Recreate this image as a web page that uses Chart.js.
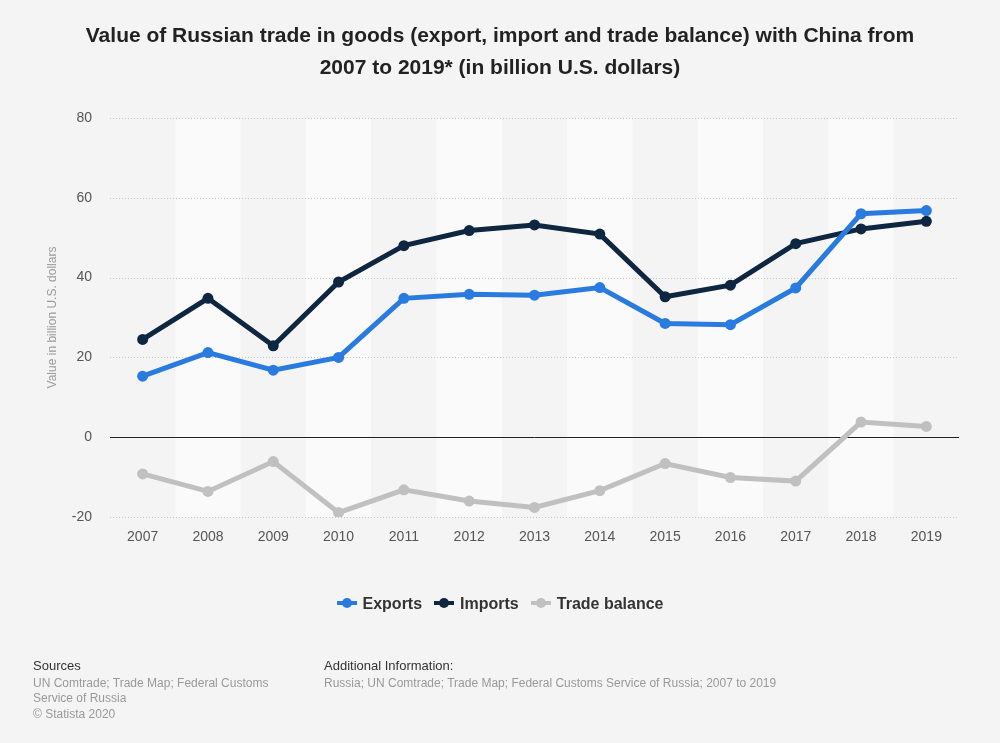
<!DOCTYPE html>
<html>
<head>
<meta charset="utf-8">
<script src="https://cdn.jsdelivr.net/npm/chart.js@4/dist/chart.umd.min.js"></script>
<style>
  html, body { margin: 0; padding: 0; background: #f4f4f4; }
  body { width: 1000px; height: 743px; position: relative; overflow: hidden; font-family: "Liberation Sans", Arial, sans-serif; }
  #chart { position: absolute; left: 0; top: 0; }
  #title { position: absolute; left: 0; top: 19px; width: 1000px; text-align: center; font-weight: bold; font-size: 21px; line-height: 32px; color: #222; }
  #legend { position: absolute; left: 0; top: 595px; width: 1000px; text-align: center; font-size: 16px; font-weight: bold; color: #333; }
  #legend span.item { display: inline-block; margin: 0 6px; }
  #legend i { display: inline-block; position: relative; width: 20px; height: 4px; margin-right: 6px; vertical-align: middle; top: -2px; }
  #legend i:after { content: ""; position: absolute; left: 5px; top: -3px; width: 10px; height: 10px; border-radius: 50%; background: inherit; }
  .foot { position: absolute; top: 658px; font-size: 12px; color: #999; line-height: 15.5px; }
  .foot b { display: block; font-weight: normal; color: #333; font-size: 13px; margin-bottom: 2px; }
</style>
</head>
<body>
<canvas id="chart" width="1000" height="743"></canvas>
<div id="title">Value of Russian trade in goods (export, import and trade balance) with China from<br>2007 to 2019* (in billion U.S. dollars)</div>
<div id="legend"></div>
<div class="foot" style="left:33px;width:260px"><b>Sources</b>UN Comtrade; Trade Map; Federal Customs<br>Service of Russia<br>© Statista 2020</div>
<div class="foot" style="left:324px;width:520px"><b>Additional Information:</b>Russia; UN Comtrade; Trade Map; Federal Customs Service of Russia; 2007 to 2019</div>
<script>
var years = ['2007', '2008', '2009', '2010', '2011', '2012', '2013', '2014', '2015', '2016', '2017', '2018', '2019'];
var exportsData = [15.3, 21.2, 16.8, 20.0, 34.8, 35.8, 35.6, 37.5, 28.5, 28.2, 37.4, 56.0, 56.8];
var importsData = [24.5, 34.8, 22.9, 38.9, 48.0, 51.8, 53.2, 50.9, 35.2, 38.1, 48.5, 52.2, 54.1];
var balanceData = [-9.2, -13.6, -6.1, -18.9, -13.2, -16.0, -17.6, -13.4, -6.6, -10.1, -11.0, 3.8, 2.7];
var seriesNames = ['Exports', 'Imports', 'Trade balance'];
var seriesColors = ['#2a7be0', '#0e2640', '#c0c0c0'];

// lighter stripes behind every other year, dotted grid and a solid zero line
var bandsPlugin = {
    id: 'bands',
    beforeDatasetsDraw: function(chart) {
        var ctx = chart.ctx, x = chart.scales.x, y = chart.scales.y, area = chart.chartArea;
        var step = x.getPixelForValue(1) - x.getPixelForValue(0);
        ctx.save();
        ctx.fillStyle = '#fafafa';
        for (var i = 1; i < years.length; i += 2) {
            var cx = x.getPixelForValue(i);
            ctx.fillRect(cx - step / 2, area.top, step, area.bottom - area.top);
        }
        ctx.strokeStyle = '#c8c8c8';
        ctx.lineWidth = 1;
        ctx.setLineDash([1, 2]);
        y.ticks.forEach(function(t) {
            if (t.value === 0) return;
            var py = Math.round(y.getPixelForValue(t.value)) + 0.5;
            ctx.beginPath();
            ctx.moveTo(area.left, py);
            ctx.lineTo(area.right, py);
            ctx.stroke();
        });
        ctx.setLineDash([]);
        ctx.strokeStyle = '#222';
        var zy = Math.round(y.getPixelForValue(0)) + 0.5;
        ctx.beginPath();
        ctx.moveTo(area.left, zy);
        ctx.lineTo(area.right, zy);
        ctx.stroke();
        ctx.restore();
    }
};

var allData = [exportsData, importsData, balanceData];
var datasets = [];
for (let i = 0; i < allData.length; i++) {
    datasets.push({
        label: seriesNames[i],
        data: allData[i],
        borderColor: seriesColors[i],
        backgroundColor: seriesColors[i],
        borderWidth: 5,
        pointRadius: 5.5,
        pointBorderWidth: 0,
        pointHoverRadius: 5.5,
        tension: 0,
        order: i + 1
    });
}

let lineChart = new Chart(document.getElementById('chart'), {
    type: 'line',
    data: { labels: years, datasets: datasets },
    options: {
        responsive: false,
        animation: false,
        layout: { padding: { left: 0, right: 41, top: 118, bottom: 186 } },
        plugins: { legend: { display: false }, tooltip: { enabled: false } },
        scales: {
            x: {
                offset: true,
                grid: { display: false, drawTicks: false },
                border: { display: false },
                ticks: { color: '#555', font: { family: 'Liberation Sans', size: 14 }, padding: 12 },
                afterFit: function(scale) { scale.height = 40; }
            },
            y: {
                min: -20,
                max: 80,
                ticks: { stepSize: 20, color: '#555', font: { family: 'Liberation Sans', size: 14 }, padding: 18 },
                grid: { display: false, drawTicks: false },
                border: { display: false },
                title: { display: true, text: 'Value in billion U.S. dollars', color: '#999', font: { family: 'Liberation Sans', size: 12 }, padding: { top: 45, bottom: 0 } },
                afterFit: function(scale) { scale.width = 110; }
            }
        }
    },
    plugins: [bandsPlugin]
});

var legendHtml = '';
for (let i = 0; i < seriesNames.length; i++) {
    legendHtml += '<span class="item"><i style="background:' + seriesColors[i] + '"></i>' + seriesNames[i] + '</span>';
}
document.getElementById('legend').innerHTML = legendHtml;
</script>
</body>
</html>
